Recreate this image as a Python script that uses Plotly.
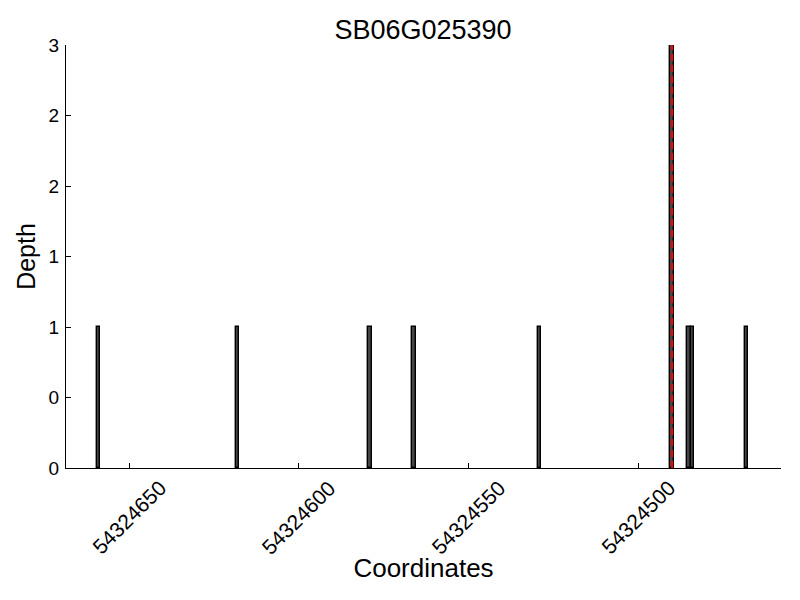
import plotly.graph_objects as go

# Data
coordinates = [54324659, 54324618, 54324579, 54324566, 54324529,
               54324490, 54324485, 54324484, 54324468]
depths = [1, 1, 1, 1, 1, 3, 1, 1, 1]
highlight_position = 54324490
x_ticks = [54324650, 54324600, 54324550, 54324500]
x_tick_labels = ["54324650", "54324600", "54324550", "54324500"]
y_ticks = [0, 0.5, 1, 1.5, 2, 2.5, 3]
y_tick_labels = ["0", "0", "1", "1", "2", "2", "3"]
title_text = "SB06G025390"

FONT = "Liberation Sans, Arial, Helvetica, sans-serif"

# page body has an 8px margin, so the figure is 8px smaller each way
W, H = 792, 592

fig = go.Figure()
fig.add_trace(go.Bar(
    x=coordinates, y=depths, width=1,
    marker=dict(color="#464646", line=dict(color="black", width=1.4)),
    showlegend=False,
))
fig.add_trace(go.Scatter(
    x=[highlight_position, highlight_position], y=[0, max(depths)],
    mode="lines",
    line=dict(color="red", width=2, dash="7px,4px"),
    showlegend=False,
))

# rotated x tick labels centred under their ticks
for v, t in zip(x_ticks, x_tick_labels):
    fig.add_annotation(
        x=v, xref="x", y=0, yref="paper", yshift=-6,
        text=t, textangle=-45, showarrow=False,
        xanchor="center", yanchor="top",
        font=dict(size=21, family=FONT, color="black"),
    )

fig.update_layout(
    width=W, height=H,
    margin=dict(l=58, r=19, t=37, b=132),
    paper_bgcolor="white", plot_bgcolor="white",
    font=dict(family=FONT, color="black", size=19),
    title=dict(text=title_text, x=415 / W, xanchor="center",
               y=1 - 22 / H, yanchor="middle", font=dict(size=27)),
    bargap=0,
)
fig.update_xaxes(
    range=[54324668.6, 54324457.9], automargin=False,
    tickvals=x_ticks, showticklabels=False,
    ticks="inside", ticklen=5, tickcolor="black",
    showline=True, linecolor="black", linewidth=1,
    showgrid=False, zeroline=False,
    title=dict(text="Coordinates", font=dict(size=26), standoff=90),
)
fig.update_yaxes(
    range=[0, 3], automargin=False,
    tickvals=y_ticks, ticktext=y_tick_labels,
    ticks="inside", ticklen=5, tickcolor="black",
    showline=True, linecolor="black", linewidth=1,
    showgrid=False, zeroline=False, ticklabelstandoff=2,
    title=dict(text="Depth", font=dict(size=25), standoff=5),
    tickfont=dict(size=19),
)

fig.write_html("out.html")
